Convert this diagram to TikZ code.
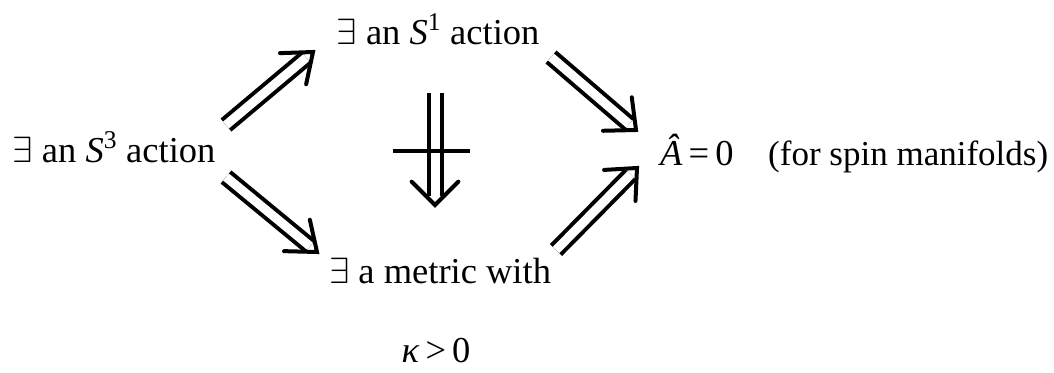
\RequirePackage{fix-cm}
\documentclass[tikz,border=0pt]{standalone}
\usepackage{fontspec}
\setmainfont{Liberation Serif}
\usetikzlibrary{calc}
\newcommand{\dblarr}[3]{%
  \draw[shaft] (#1) -- (#2);
  \draw[head] ($(#2)!33pt!#3:(#1)$) -- (#2) -- ($(#2)!33pt!-#3:(#1)$);}
\begin{document}
\begin{tikzpicture}[x=1pt,y=-1pt,
  every node/.style={inner sep=0pt, font=\fontsize{36.5}{42}\selectfont},
  shaft/.style={draw=black, line width=4pt, double=white, double distance=9pt, shorten >=9pt},
  head/.style={draw=black, line width=4pt, line join=miter, line cap=round},
  bar/.style={draw=black, line width=4pt}]
\useasboundingbox (0,0) rectangle (1054,372);
% nodes
\node[anchor=base] (s3) at (114,162) {$\exists$ an \textit{S}\textsuperscript{3} action};
\node[anchor=base] (s1) at (438,44) {$\exists$ an \textit{S}\textsuperscript{1} action};
\node[anchor=base] (km) at (440,283) {$\exists$ a metric with};
\node[anchor=base, text depth=0pt] (kp) at (436,362) {\textit{κ}\,>\,0};
\node[anchor=base west] (ah) at (660,165) {\textit{Â}\,=\,0};
\node[anchor=base west, font=\fontsize{35}{42}\selectfont] (fs) at (768,165) {(for spin manifolds)};
% arrow end points, relative to nodes
\coordinate (ula) at ($(s3.base)+(112,-37)$);
\coordinate (ulb) at ($(s1.base)+(-125,8)$);
\coordinate (lla) at ($(s3.base)+(112,15)$);
\coordinate (llb) at ($(km.base)+(-123,-31)$);
\coordinate (ura) at ($(s1.base)+(113,13)$);
\coordinate (urb) at ($(ah.base west)+(-24,-35)$);
\coordinate (lra) at ($(km.base)+(116,-33)$);
\coordinate (lrb) at ($(ah.base west)+(-23,3)$);
\coordinate (va) at ($(s1.base)+(-3,49)$);
\coordinate (vb) at ($(km.base)+(-5,-78)$);
% arrows
\dblarr{ula}{ulb}{38}
\dblarr{lla}{llb}{38}
\dblarr{ura}{urb}{42}
\dblarr{lra}{lrb}{42}
\dblarr{va}{vb}{45}
% crossbar of the negated implication
\coordinate (vm) at ($(va)!0.52!(vb)$);
\draw[bar] ($(vm)+(-42,0)$) -- ($(vm)+(35,0)$);
\end{tikzpicture}
\end{document}
